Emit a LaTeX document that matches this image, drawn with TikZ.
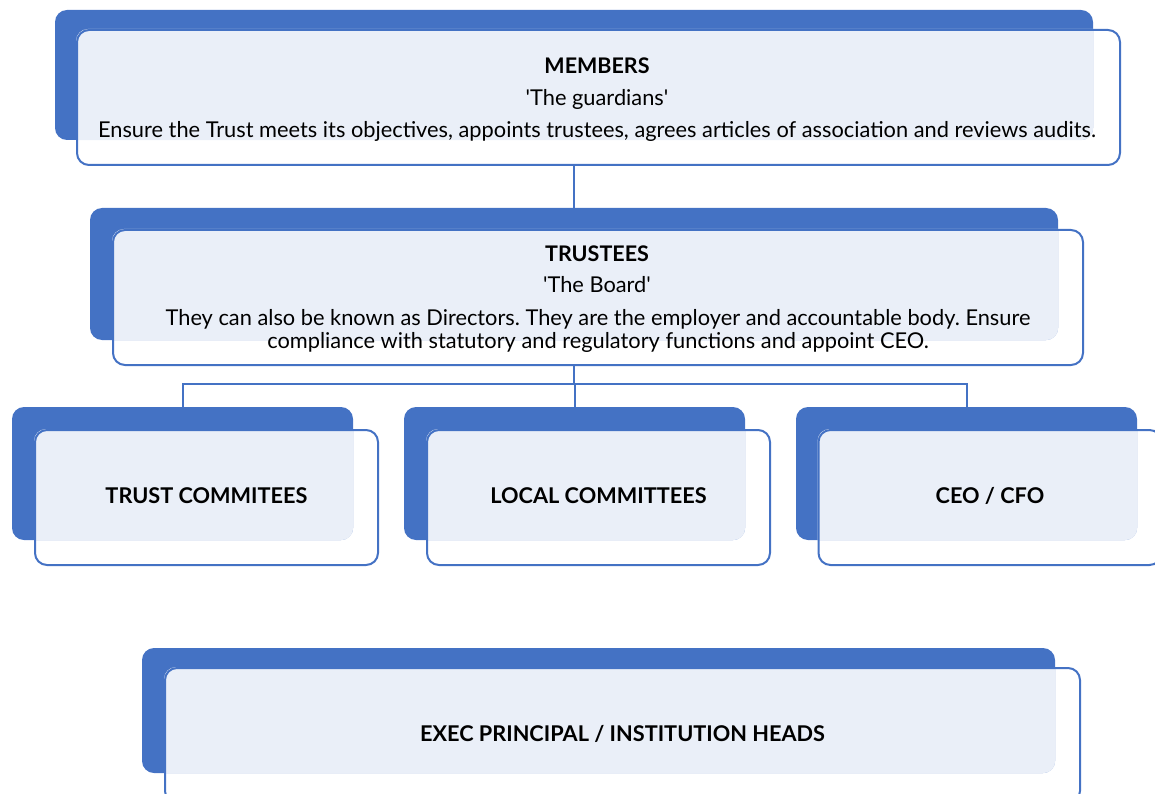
\documentclass[tikz,border=0pt]{standalone}
\usepackage{fontspec}
\setmainfont{Lato}
\usetikzlibrary{positioning,calc,backgrounds}
\definecolor{boardblue}{HTML}{4472C4}
\definecolor{boardpale}{HTML}{EAEFF8}
\frenchspacing

\tikzset{
  backbox/.style={fill=boardblue, rounded corners=12pt, inner sep=0pt},
  frontbox/.style={draw=boardblue, line width=2pt, rounded corners=12pt, inner sep=0pt},
  link/.style={draw=boardblue, line width=2pt},
  head/.style={font=\fontsize{21.5}{24}\selectfont\bfseries, anchor=base},
  body/.style={font=\fontsize{21.8}{22.5}\selectfont, align=center},
  unit/.style={font=\fontsize{21.7}{24}\selectfont\bfseries, text depth=4pt},
}

\begin{document}
\begin{tikzpicture}[x=1pt,y=-1pt]
\useasboundingbox (0,0) rectangle (1155,794);
% front frames
\node[frontbox, minimum width=1043pt, minimum height=135pt] (f-members) at (598.5,97.5) {};
\node[frontbox, minimum width=970pt, minimum height=135pt] (f-trustees) at (598,297.5) {};
\node[frontbox, unit, minimum width=343pt, minimum height=135pt] (f-trustc) at (206.5,497.5) {TRUST COMMITEES};
\node[frontbox, unit, minimum width=343pt, minimum height=135pt] (f-localc) at (598.5,497.5) {LOCAL COMMITTEES};
\node[frontbox, unit, minimum width=343pt, minimum height=135pt] (f-ceo) at (990,497.5) {CEO / CFO};
\node[frontbox, unit, minimum width=915pt, minimum height=135pt] (f-exec) at (622.5,735.5) {EXEC PRINCIPAL / INSTITUTION HEADS};

% texts of the two top frames
\node[head] (members) at (597,74) {MEMBERS};
\node[body, anchor=base] (guardians) at (597,106) {\textquotesingle The guardians\textquotesingle};
\node[body, anchor=base] (members-txt) at (597,137.5) {Ensure the Trust meets its objectives, appoints trustees, agrees articles of association and reviews audits.};
\node[head] (trustees) at (597,261) {TRUSTEES};
\node[body, anchor=base] (board) at (597,292) {\textquotesingle The Board\textquotesingle};
\node[body] (trustees-txt) at (598,331) {They can also be known as Directors. They are the employer and accountable body. Ensure\\compliance with statutory and regulatory functions and appoint CEO.};

\begin{scope}[on background layer]
% solid blue plates behind
\node[backbox, minimum width=1038pt, minimum height=130pt] (b-members) at (574,75) {};
\node[backbox, minimum width=968pt, minimum height=132pt] (b-trustees) at (574,274) {};
\node[backbox, minimum width=341pt, minimum height=133pt] (b-trustc) at (182.5,473.5) {};
\node[backbox, minimum width=341pt, minimum height=133pt] (b-localc) at (574.5,473.5) {};
\node[backbox, minimum width=341pt, minimum height=133pt] (b-ceo) at (966.5,473.5) {};
\node[backbox, minimum width=913pt, minimum height=125pt] (b-exec) at (598.5,710.5) {};
% pale overlap of plate and frame
\foreach \n in {members,trustees,trustc,localc,ceo,exec} {
  \begin{scope}
    \clip[rounded corners=12pt] (b-\n.north west) rectangle (b-\n.south east);
    \fill[boardpale, rounded corners=12pt] (f-\n.north west) rectangle (f-\n.south east);
  \end{scope}
}
% connectors
\coordinate (split) at (574,384);
\draw[link] (b-members.south |- f-members.south) -- (b-trustees.north);
\draw[link] (b-trustees.south |- f-trustees.south) -- (split);
\foreach \n in {trustc,localc,ceo} \draw[link] (split) -| (b-\n.north);
\end{scope}
\end{tikzpicture}
\end{document}
